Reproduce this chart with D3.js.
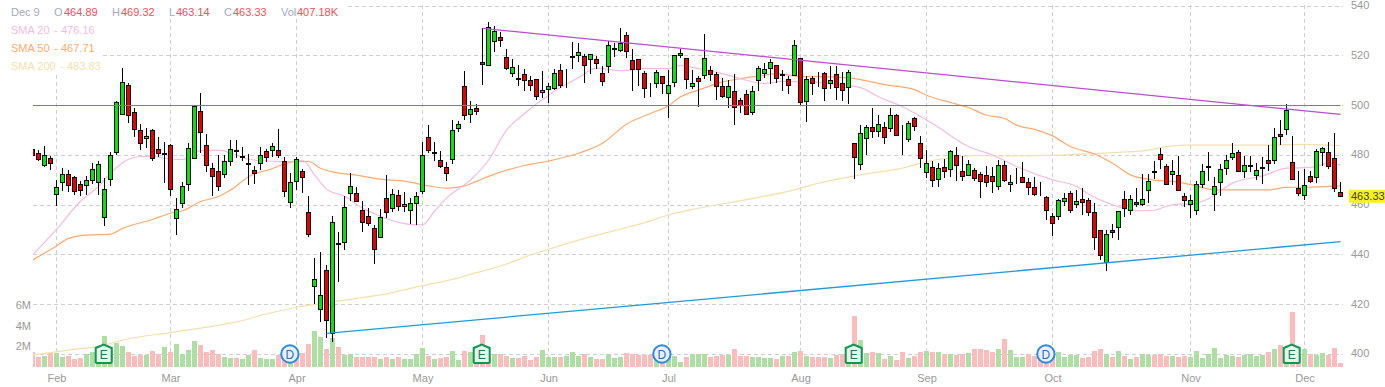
<!DOCTYPE html>
<html>
<head>
<meta charset="utf-8">
<style>
  html, body { margin: 0; padding: 0; background: #fff; }
  svg { display: block; font-family: "Liberation Sans", Arial, sans-serif; }
</style>
<script src="https://cdn.jsdelivr.net/npm/d3@7"></script>
</head>
<body>
<div id="chart"></div>
<script>
// Daily prices (one entry per session)
const opens = [
  482.5,480.8,476.0,478.8,464.3,469.1,472.3,471.2,468.4,468.0,
  470.0,469.1,454.8,470.4,481.2,496.4,508.0,497.2,490.1,486.7,
  490.0,482.5,480.8,484.0,454.4,460.8,468.4,478.8,497.6,484.0,
  474.8,473.6,472.3,477.6,482.1,479.5,476.8,473.7,476.7,481.6,
  482.0,482.0,477.6,461.1,469.6,473.6,456.8,427.1,418.0,433.6,
  408.4,444.3,444.8,464.8,464.8,458.0,455.2,450.4,446.8,462.8,
  458.8,464.0,459.6,458.0,460.8,465.6,487.2,481.2,478.0,475.2,
  478.4,490.8,507.6,496.4,498.8,517.2,515.9,525.9,527.2,519.2,
  512.8,510.8,512.3,510.0,510.4,505.2,506.4,506.8,514.0,510.3,
  519.5,520.0,519.6,518.4,518.4,512.8,515.6,522.7,522.0,528.0,
  517.9,518.4,512.8,508.8,508.8,511.6,504.7,509.2,520.0,518.8,
  507.6,510.8,511.9,514.0,512.3,507.6,503.2,505.6,502.0,504.4,
  497.2,510.0,512.8,514.8,516.0,512.3,510.4,512.0,518.8,501.6,
  510.8,509.5,512.8,508.8,512.4,508.8,507.2,484.8,476.4,486.8,
  491.2,489.6,491.2,490.8,496.0,487.9,486.4,494.8,484.8,473.2,
  475.2,470.4,475.2,474.4,480.0,473.6,472.0,474.0,472.4,472.0,
  471.6,467.6,476.0,468.4,471.5,471.2,469.2,467.2,465.9,463.2,
  455.2,455.2,461.6,464.8,460.4,462.4,462.0,456.8,449.6,436.8,
  449.6,450.8,462.4,458.0,461.2,460.4,466.0,473.6,480.4,475.6,
  472.4,472.0,463.6,460.4,457.6,468.4,475.2,464.4,469.2,474.8,
  479.2,481.2,473.6,476.0,472.0,474.8,478.0,478.0,488.4,490.4,
  477.2,466.8,464.0,471.6,471.2,481.2,481.2,478.8,464.89
];
const closes = [
  480.1,478.4,480.0,476.7,467.2,472.3,468.0,465.5,465.9,470.0,
  474.4,476.4,466.4,480.0,501.2,509.2,496.0,490.4,484.8,487.6,
  478.8,480.7,480.4,466.4,458.4,467.6,482.8,499.6,489.1,476.0,
  471.5,467.5,477.6,482.4,481.5,479.1,476.3,472.7,480.0,479.1,
  483.6,479.9,465.5,469.2,478.4,471.1,448.0,430.0,423.6,413.6,
  452.8,444.5,459.2,467.6,461.5,452.8,452.4,442.0,454.8,456.8,
  464.4,459.6,460.4,460.8,463.6,480.0,482.0,480.8,475.6,472.8,
  490.0,492.4,496.0,498.4,497.5,516.4,531.2,529.6,526.3,514.7,
  515.2,510.3,510.0,507.9,503.6,506.0,507.6,512.8,507.9,510.4,
  519.6,521.2,516.0,520.4,516.8,509.6,524.0,522.8,524.8,521.6,
  514.4,514.4,506.8,508.9,513.2,508.8,508.0,520.0,520.8,510.4,
  508.8,509.6,518.8,512.4,507.6,503.5,507.5,499.2,500.0,496.4,
  505.6,514.8,514.4,517.2,510.8,511.9,508.0,524.0,501.2,510.4,
  508.8,509.6,506.8,510.0,507.2,506.0,513.2,479.2,488.8,491.2,
  489.6,492.4,487.2,496.0,488.0,488.0,492.8,491.6,478.8,476.8,
  470.0,474.8,473.6,481.6,476.0,471.6,476.4,470.8,469.6,469.2,
  469.6,476.0,470.0,469.2,471.6,469.2,467.2,464.4,466.0,457.6,
  452.4,462.0,462.8,457.6,461.6,461.2,456.8,446.8,439.6,448.0,
  448.8,457.2,458.8,462.4,460.4,462.4,469.6,473.2,478.4,468.4,
  473.6,466.0,462.0,462.0,468.4,473.6,475.3,467.6,474.4,478.0,
  480.8,473.6,476.0,475.6,474.0,474.9,476.8,487.2,487.6,498.0,
  470.4,464.8,468.0,469.6,481.6,482.8,475.6,466.8,463.33
];
const highs = [
  483.5,482.1,483.7,479.7,469.9,474.9,474.1,471.5,469.5,471.7,
  476.8,477.6,470.8,481.2,502.0,514.9,509.1,498.8,492.5,490.8,
  490.5,487.2,485.3,484.5,462.8,469.1,485.0,500.1,504.9,488.5,
  476.8,480.1,480.1,486.1,486.1,483.2,480.5,475.5,483.2,482.4,
  484.8,490.5,479.5,472.8,479.5,474.4,463.7,438.9,441.2,435.7,
  455.6,449.2,463.5,472.8,467.2,461.6,458.8,451.9,458.4,472.0,
  466.4,466.1,465.2,462.8,465.2,485.2,492.1,485.3,481.7,477.3,
  494.1,493.7,513.7,501.7,500.8,531.2,533.7,532.1,529.7,522.8,
  518.8,516.4,514.8,511.7,510.8,513.7,509.2,514.8,516.5,514.8,
  525.7,525.2,520.8,520.8,520.1,516.0,526.1,525.2,531.2,529.6,
  522.8,518.4,513.7,509.2,514.4,512.0,514.4,520.4,522.8,519.2,
  514.4,511.7,528.9,515.7,513.5,511.2,510.1,512.8,503.2,506.1,
  508.0,515.7,517.2,518.8,516.4,514.4,512.0,526.4,519.2,512.0,
  512.0,513.5,513.5,516.0,515.7,513.5,514.4,485.1,492.1,492.1,
  499.2,496.0,493.3,498.9,496.4,492.1,493.6,495.2,487.7,482.0,
  477.6,476.8,478.4,482.1,483.3,479.7,478.1,474.8,473.2,475.5,
  475.1,478.1,477.6,472.1,474.8,477.2,470.8,471.2,469.2,463.7,
  456.8,462.4,464.8,465.6,466.1,466.8,462.8,460.8,450.1,450.0,
  452.4,457.5,465.6,464.0,466.8,472.5,472.5,477.7,482.8,476.3,
  478.1,479.7,464.8,464.1,469.7,476.5,481.3,471.2,476.5,480.1,
  484.9,482.1,479.7,479.7,476.8,479.2,484.0,490.9,494.1,500.5,
  487.7,473.7,474.5,473.7,482.4,483.5,485.3,488.9,469.32
];
const lows = [
  479.5,477.5,475.1,474.1,459.5,465.5,465.3,464.1,463.5,464.1,
  468.5,464.1,451.5,467.5,480.1,496.4,493.1,487.2,482.1,482.9,
  477.5,479.5,468.8,463.7,447.9,458.8,465.5,478.8,480.8,473.1,
  463.5,465.7,470.8,475.7,478.8,477.5,468.1,468.5,474.1,477.1,
  479.5,479.0,463.1,458.7,466.1,465.0,447.1,420.4,413.1,406.7,
  405.1,429.1,441.9,461.5,461.1,449.1,451.7,436.3,446.8,454.8,
  457.3,457.7,457.3,452.4,452.1,464.5,481.1,477.5,474.9,469.5,
  476.5,489.5,494.1,493.1,496.1,508.1,515.9,521.5,523.7,514.1,
  511.5,507.7,505.9,505.9,502.1,503.2,501.1,506.1,507.2,507.1,
  514.8,517.5,509.1,512.8,514.8,507.9,513.1,519.7,521.5,519.1,
  505.9,507.9,503.1,503.5,507.1,504.5,495.1,507.5,519.2,506.8,
  506.8,499.5,510.8,509.7,502.4,503.1,499.2,492.3,497.1,496.1,
  496.3,505.9,511.2,508.8,509.1,505.9,504.5,512.0,500.3,493.3,
  504.1,507.5,501.9,506.8,502.3,501.9,500.7,470.5,474.1,480.1,
  487.1,487.5,484.7,489.5,487.7,480.1,485.5,489.9,474.7,470.8,
  467.1,467.1,470.8,471.2,469.7,469.5,471.5,469.5,462.9,467.1,
  464.7,466.1,469.1,465.1,468.4,468.8,464.1,463.5,463.5,453.9,
  447.7,453.9,459.7,456.7,458.8,455.9,455.5,442.1,437.9,433.3,
  446.7,445.9,455.1,456.1,459.1,459.5,460.9,470.5,474.4,468.3,
  468.1,465.5,459.1,454.7,456.1,466.8,469.7,457.7,463.7,472.1,
  477.9,473.1,470.9,473.2,470.1,468.3,473.7,476.5,484.3,488.1,
  469.9,463.5,461.9,468.8,468.8,475.5,474.4,465.1,463.14
];
// Volume in millions of shares
const volumes = [
  1.49,.94,1.07,1.36,1.33,.94,1.04,.75,.84,1.23,
  1.43,1.3,2.99,1.95,2.34,2.01,1.43,1.07,1.14,1.14,
  1.53,1.27,1.92,1.43,2.21,1.23,1.62,2.5,2.11,1.43,
  1.62,1.23,.94,.84,.84,.75,1.14,1.62,.84,.75,
  .75,1.14,.97,.81,1.0,1.36,2.21,3.51,2.89,1.75,
  2.79,1.92,1.17,1.23,.97,.97,.94,.94,.75,.94,
  .78,.94,.75,.75,1.23,1.82,1.04,.75,.88,.94,
  1.53,.65,1.53,1.43,1.3,3.08,1.17,1.23,1.23,1.04,
  .84,.84,1.04,.65,.94,1.62,.94,.94,.94,1.04,
  1.43,1.04,1.23,.94,.75,.75,1.23,.84,.94,1.33,
  1.23,1.14,1.14,1.14,.97,.81,.97,1.04,.45,.94,
  1.23,1.23,1.23,.94,1.04,1.14,1.14,1.72,1.04,1.04,
  .94,.94,.84,.84,.75,1.04,1.04,1.43,1.53,1.04,
  .94,.94,.94,.84,1.14,1.23,.65,4.94,2.6,1.33,
  1.43,1.33,.75,1.04,.65,1.43,.84,1.04,1.43,1.53,
  1.43,1.43,1.23,1.23,1.14,1.23,1.33,1.72,1.72,1.62,
  1.43,1.72,2.69,1.62,.94,.94,1.23,1.04,.81,1.04,
  1.3,1.43,.94,1.14,1.14,.84,.94,1.53,1.72,1.23,
  .94,1.53,1.04,.75,.94,1.23,1.14,1.14,1.23,1.04,
  1.04,.94,1.04,.94,1.53,.84,1.23,1.82,.84,1.14,
  1.04,.94,1.14,1.23,1.04,1.14,1.43,1.72,2.11,1.0,
  5.32,1.04,1.72,1.23,1.14,1.33,1.14,1.82,.41
];
// G or R per session, the volume bars have their own colouring
const volumeSides = (
  'RRGRGGRRRG' + 'GGGGGGRRRG' + 'RRGRGGGGRR' + 'RRGGRGGRGG' + 'GRRGRRRGGR' +
  'GRGGRRRRGR' + 'GRGGGGRGRR' + 'GGRGRRRGRR' + 'GRRRRGGGRG' + 'GGRGRRGGGR' +
  'RRRRGRGGGR' + 'GGGRRRGRRR' + 'GGGGRGRGRG' + 'RRRGRRGRGG' + 'RGRGRRGRRG' +
  'RGRGRRGRRR' + 'RGRGGGRRRR' + 'RGGGGRRRRG' + 'RGRGRGGRRR' + 'GRRGGGGGGG' +
  'GRGGGGRGRG' + 'RRGRGGRRR'
).split('');

// Moving averages, read at sample sessions
const sma20Days = [0,4,8,11,13,16,18,20,22,25,28,31,34,36,39,43,45,47,49,52,55,58,61,64,65,67,69,73,76,79,82,86,91,94,98,102,106,108,111,115,118,122,125,130,135,138,141,145,150,156,160,164,170,174,176,180,184,187,189,191,193,196,200,205,209,213,216,218];
const sma20 = [439.9,450.2,461.5,467.5,472.8,478.4,479.5,479.5,478.8,478.3,481.9,482.1,480,478.4,477.7,477.5,478,472.1,466.4,463.5,458.8,455.5,453,452,452,457.5,462.8,470.1,478,490.1,496.8,504.1,511.2,515,514,514.8,514.8,516.1,514.8,512.8,510.8,508.8,509.7,509.5,508.1,507.2,503.5,499.5,492.8,483.5,480.1,475.5,470.1,467.5,464.4,460.1,457.7,457.9,459.5,460.4,460.4,462.5,468.8,471.7,474.8,475.1,476.8,476.16];
const sma50Days = [0,4,6,9,13,15,20,23,25,28,31,33,36,40,42,44,46,48,50,54,58,62,66,69,72,74,76,82,86,91,95,99,103,106,108,111,115,118,122,124,128,133,137,142,147,149,153,156,159,162,164,167,170,173,177,180,183,187,190,194,197,206,209,213,218];
const sma50 = [437.9,443.5,446.6,447.9,448.3,450.6,454.2,456.7,457.7,461.4,463.4,466,471.4,474.7,476.5,477.5,477.5,474.8,473.3,472,470.4,469.6,467.7,466.8,467.7,469.5,471.5,475.9,477.7,480.8,484.8,492.5,496.8,499.9,503.5,506.2,509.5,510.8,512.1,512.8,511.7,511.5,510.8,508.4,506.4,504.1,501.2,499.2,496.1,494.8,492.1,490.4,487.8,483.5,480.5,476.8,472.1,470,469.5,467.7,466.1,466.1,467.1,467.2,467.71];
const sma200Days = [0,6,12,15,23,29,34,39,44,48,53,60,65,70,74,79,83,86,92,97,102,106,111,119,127,131,135,139,145,149,155,157,162,170,174,181,186,189,192,200,206,212,216,218];
const sma200 = [399.7,401.7,403.7,405.7,408.7,410.9,413,416.2,418.9,420.4,422.1,424.8,427.6,430.1,432.8,436.3,439.9,442.2,446.6,449.7,452.9,456,458.7,462.2,466.1,468.8,470.8,472.5,474.8,477.5,479.5,479.9,479.7,480,480.4,481.2,482.1,483.5,484.1,484.1,484.1,484.4,484.1,483.83];

// Hand drawn trend lines: [session, price]
const resistanceLine = [[75,531.0],[218,496.4]];
const supportLine = [[49,408.4],[218,445.3]];
const levelLine = 500;

// Earnings and dividend markers
const earningsDays = [12,75,137,210];
const dividendDays = [43,105,169];

// Axis labels
const priceTicks = [400,420,440,460,480,500,520,540];
const volumeTicks = [2,4,6];
const monthDays = [4,23,44,65,86,106,128,149,170,193,212];
const monthNames = ['Feb','Mar','Apr','May','Jun','Jul','Aug','Sep','Oct','Nov','Dec'];

const width = 1385, height = 387;

const x = d3.scaleLinear().domain([0, 218]).range([32.5, 1340.5]);
const y = d3.scaleLinear().domain([400, 540]).range([354.3, 6]);
const yVol = d3.scaleLinear().domain([0, 6]).range([367, 305.3]);

const crisp = v => Math.floor(v) + 0.5;

const svg = d3.select('#chart').append('svg')
    .attr('width', width)
    .attr('height', height);

svg.append('defs').append('clipPath').attr('id', 'plot')
  .append('rect')
    .attr('x', 33).attr('y', 0)
    .attr('width', 1310).attr('height', 367);

// Grid
const gridColor = '#d0d0d0';
svg.append('g').selectAll('line')
  .data(priceTicks)
  .join('line')
    .attr('x1', 33).attr('x2', 1343)
    .attr('y1', d => crisp(y(d))).attr('y2', d => crisp(y(d)))
    .attr('stroke', gridColor).attr('stroke-dasharray', '4,3');
svg.append('g').selectAll('line')
  .data(monthDays)
  .join('line')
    .attr('x1', d => x(d)).attr('x2', d => x(d))
    .attr('y1', 5).attr('y2', 367)
    .attr('stroke', gridColor).attr('stroke-dasharray', '4,3');

const plot = svg.append('g').attr('clip-path', 'url(#plot)');

// Volume bars
plot.append('g').selectAll('rect')
  .data(volumes)
  .join('rect')
    .attr('x', (d, i) => x(i) - 2.5)
    .attr('width', 5)
    .attr('y', d => Math.round(yVol(d)))
    .attr('height', d => 367 - Math.round(yVol(d)))
    .attr('fill', (d, i) => volumeSides[i] === 'G' ? '#addfa5' : '#ffbcbc');

// Moving averages
function drawAverage(days, values, color) {
  const line = d3.line().curve(d3.curveMonotoneX).x((d, i) => x(days[i])).y(d => y(d));
  plot.append('path')
      .attr('d', line(values))
      .attr('fill', 'none')
      .attr('stroke', color)
      .attr('stroke-width', 1.2);
}
drawAverage(sma200Days, sma200, '#f5dfae');
drawAverage(sma50Days, sma50, '#ffab70');
drawAverage(sma20Days, sma20, '#f3bbe6');

// Candles
const candles = plot.append('g').selectAll('g')
  .data(opens)
  .join('g');
candles.append('line')
    .attr('x1', (d, i) => x(i)).attr('x2', (d, i) => x(i))
    .attr('y1', (d, i) => Math.round(y(highs[i])))
    .attr('y2', (d, i) => Math.round(y(lows[i])))
    .attr('stroke', '#000');
candles.append('rect')
    .attr('x', (d, i) => x(i) - 2)
    .attr('width', 4)
    .attr('y', (d, i) => crisp(y(Math.max(d, closes[i]))))
    .attr('height', (d, i) => crisp(y(Math.min(d, closes[i]))) - crisp(y(Math.max(d, closes[i]))))
    .attr('fill', (d, i) => closes[i] >= d ? '#00e600' : '#e60000')
    .attr('stroke', '#000');

// Level and trend lines go over the candles
plot.append('line')
    .attr('x1', 33).attr('x2', x(218))
    .attr('y1', crisp(y(levelLine))).attr('y2', crisp(y(levelLine)))
    .attr('stroke', '#7878b4');
const trend = d3.line().x(d => x(d[0])).y(d => y(d[1]));
plot.append('path').attr('d', trend(resistanceLine))
    .attr('fill', 'none').attr('stroke', '#b84fd0').attr('stroke-width', 1.3);
plot.append('path').attr('d', trend(supportLine))
    .attr('fill', 'none').attr('stroke', '#1e9bdc').attr('stroke-width', 1.3);

// Markers sit above the volume bars
const earnings = svg.append('g').selectAll('g')
  .data(earningsDays)
  .join('g')
    .attr('transform', d => 'translate(' + (x(d) - 0.8) + ',354)');
earnings.append('path')
    .attr('d', 'M-8,-6 L0,-9.5 L8,-6 L8,8 Q8,9 7,9 L-7,9 Q-8,9 -8,8 Z')
    .attr('fill', '#e7f4ec').attr('stroke', '#0a9a50').attr('stroke-width', 2);
earnings.append('text')
    .attr('y', 4.5).attr('text-anchor', 'middle')
    .attr('font-size', 12).attr('fill', '#1c7a52')
    .text('E');

const dividends = svg.append('g').selectAll('g')
  .data(dividendDays)
  .join('g')
    .attr('transform', d => 'translate(' + (x(d) - 0.6) + ',354)');
dividends.append('circle')
    .attr('r', 8.7)
    .attr('fill', '#e8f1fb').attr('stroke', '#2a88ea').attr('stroke-width', 2);
dividends.append('text')
    .attr('y', 4.5).attr('text-anchor', 'middle')
    .attr('font-size', 12).attr('fill', '#2f6cc4')
    .text('D');

// Axes
const axisColor = '#999';
const yAxis = svg.append('g')
    .attr('transform', 'translate(1351,-1)')
    .call(d3.axisRight(y).tickValues(priceTicks).tickSize(0).tickPadding(0));
const volAxis = svg.append('g')
    .attr('transform', 'translate(31,0)')
    .call(d3.axisLeft(yVol).tickValues(volumeTicks).tickSize(0).tickPadding(0).tickFormat(d => d + 'M'));
const xAxis = svg.append('g')
    .attr('transform', 'translate(0,374)')
    .call(d3.axisBottom(x).tickValues(monthDays).tickSize(0).tickPadding(0)
      .tickFormat((d, i) => monthNames[i]));
[yAxis, volAxis, xAxis].forEach(a => {
  a.select('.domain').remove();
  a.selectAll('text')
      .attr('fill', axisColor)
      .attr('font-size', 11)
      .attr('font-family', '"Liberation Sans", Arial, sans-serif');
});

// Last price tag
svg.append('rect')
    .attr('x', 1349).attr('y', y(closes[218]) - 7)
    .attr('width', 36).attr('height', 13)
    .attr('fill', '#fbf01e');
svg.append('text')
    .attr('x', 1351).attr('y', y(closes[218]) + 3.5)
    .attr('font-size', 11).attr('fill', '#444')
    .text(closes[218].toFixed(2));

// Legend, white backing hides the grid behind it
svg.append('rect').attr('x', 33).attr('y', 0).attr('width', 312).attr('height', 17).attr('fill', '#fff');
svg.append('rect').attr('x', 33).attr('y', 17).attr('width', 68).attr('height', 55).attr('fill', '#fff');

const legendGrey = '#a5a9bf', legendRed = '#f4505a';
const legendItems = [
  ['Dec 9', 11, 16, legendGrey],
  ['O', 54, 16, legendGrey], ['464.89', 64, 16, legendRed],
  ['H', 112, 16, legendGrey], ['469.32', 121, 16, legendRed],
  ['L', 169, 16, legendGrey], ['463.14', 176, 16, legendRed],
  ['C', 224, 16, legendGrey], ['463.33', 233, 16, legendRed],
  ['Vol', 281, 16, legendGrey], ['407.18K', 297, 16, legendRed],
  ['SMA 20', 11, 34, '#f3bbe6'], ['-', 54, 34, '#f3bbe6'], ['476.16', 61, 34, '#f3bbe6'],
  ['SMA 50', 11, 52, '#ffab70'], ['-', 54, 52, '#ffab70'], ['467.71', 61, 52, '#ffab70'],
  ['SMA 200', 11, 70, '#f5dfae'], ['-', 60, 70, '#f5dfae'], ['483.83', 67, 70, '#f5dfae']
];
svg.append('g').selectAll('text')
  .data(legendItems)
  .join('text')
    .attr('x', d => d[1])
    .attr('y', d => d[2])
    .attr('font-size', 11)
    .attr('fill', d => d[3])
    .text(d => d[0]);
</script>
</body>
</html>
